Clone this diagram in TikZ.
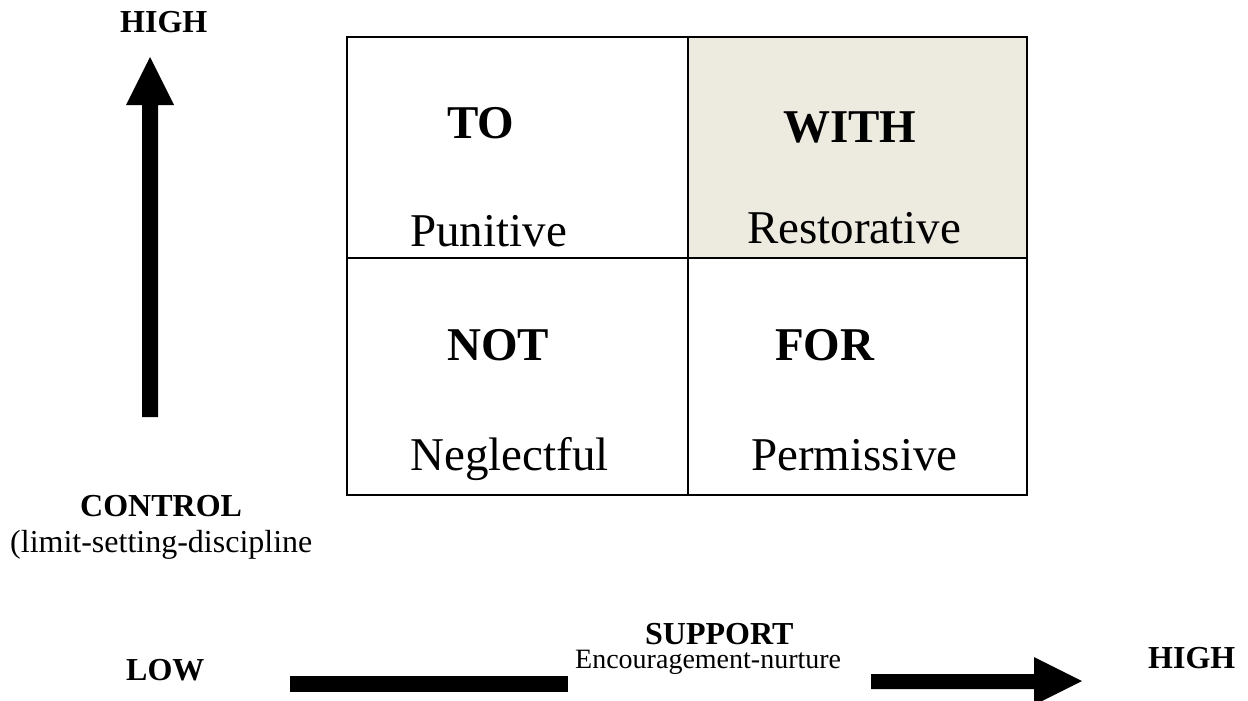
\documentclass[tikz,border=0pt]{standalone}
\usepackage{fontspec}
\setmainfont{Liberation Serif}
\definecolor{cellshade}{RGB}{237,234,224}
\begin{document}
\begin{tikzpicture}[x=1pt,y=-1pt,
  lbl/.style={anchor=base west,inner sep=0pt},
  big/.style={lbl,font=\fontsize{47}{56}\selectfont},
  bigb/.style={lbl,font=\fontsize{47}{56}\selectfont\bfseries},
  axb/.style={lbl,font=\fontsize{32}{38}\selectfont\bfseries},
  axr/.style={lbl,font=\fontsize{32}{38}\selectfont},
  grid/.style={draw=black,line width=2.2pt},
  bar/.style={fill=black,draw=none}]
\useasboundingbox (0,0) rectangle (1248,701);
% shaded cell
\fill[fill=cellshade] (688,37) rectangle (1027,258);
% table
\coordinate (tl) at (347,37);
\coordinate (br) at (1027,495);
\draw[grid] (tl) rectangle (br);
\draw[grid] (688,37) -- (688,495);
\draw[grid] (347,258) -- (1027,258);
% cell texts
\node[bigb] (to) at (447,138) {TO};
\node[big] (pun) at (410,246) {Punitive};
\node[bigb] (with) at (783,142) {WITH};
\node[big] (res) at (747,243) {Restorative};
\node[bigb] (not) at (447,360) {NOT};
\node[big] (neg) at (410,470) {Neglectful};
\node[bigb] (for) at (775,360) {FOR};
\node[big] (per) at (751,470) {Permissive};
% vertical arrow
\fill[bar] (142,417) -- (142,105) -- (126,105) -- (150,57) -- (174,105) -- (158,105) -- (158,417) -- cycle;
\node[axb] (hightop) at (120,33) {HIGH};
\node[axb] (control) at (80,516) {CONTROL};
\node[axr] (limit) at (10,552) {(limit-setting-discipline};
% horizontal arrow
\fill[bar] (290,676) rectangle (568,692);
\fill[bar] (871,674) -- (1034,674) -- (1034,657) -- (1082,681) -- (1034,705) -- (1034,689) -- (871,689) -- cycle;
\node[axb] (low) at (126,680) {LOW};
\node[axb] (support) at (645,644) {SUPPORT};
\node[lbl,font=\fontsize{28}{34}\selectfont] (enc) at (575,668) {Encouragement-nurture};
\node[axb] (highright) at (1148,668) {HIGH};
\end{tikzpicture}
\end{document}
